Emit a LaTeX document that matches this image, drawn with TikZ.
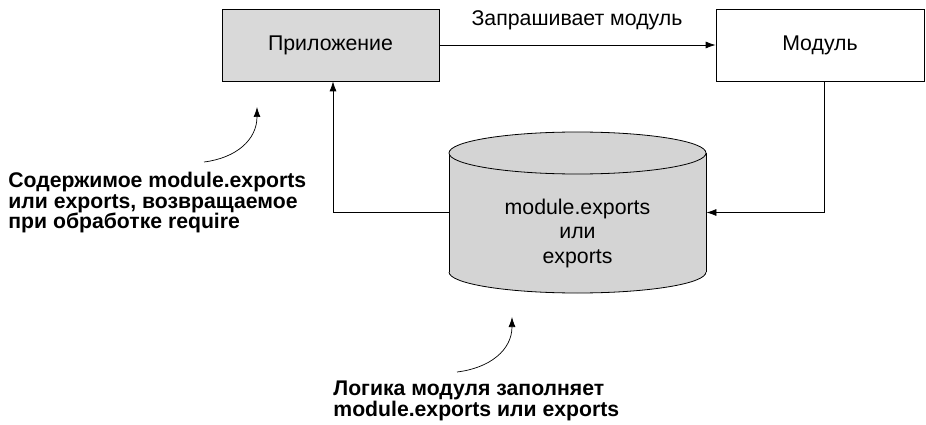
\documentclass[tikz,border=0pt]{standalone}
\usepackage{fontspec}
\setmainfont{Liberation Sans}
\usetikzlibrary{arrows.meta}
\definecolor{boxgray}{HTML}{D9D9D9}
\definecolor{cylgray}{HTML}{D4D4D4}
\begin{document}
\begin{tikzpicture}[x=1pt,y=-1pt,line width=0.8pt,
  >={Latex[length=10pt,width=7pt]},
  box/.style={draw,inner sep=0pt,minimum height=72pt,font=\fontsize{21.3}{24}\selectfont},
  note/.style={inner sep=0pt,align=left,font=\bfseries\fontsize{21.2}{20.5}\selectfont},
  plain/.style={inner sep=0pt,font=\fontsize{21.3}{24}\selectfont}]
\useasboundingbox (0,0) rectangle (926,425);

\node[box,fill=boxgray,minimum width=217pt] (app) at (330.5,45) {Приложение};
\node[box,minimum width=208pt] (mod) at (820,45) {Модуль};

% cylinder
\fill[cylgray] (449,153) rectangle (706,272);
\fill[cylgray] (577.5,272) ellipse [x radius=128.5pt, y radius=21pt];
\begin{scope}
  \clip (440,272) rectangle (720,300);
  \draw (577.5,272) ellipse [x radius=128.5pt, y radius=21pt];
\end{scope}
\draw (449,153) -- (449,272);
\draw (706,153) -- (706,272);
\draw[fill=cylgray] (577.5,153) ellipse [x radius=128.5pt, y radius=21pt];
\node[inner sep=0pt,minimum width=257pt,minimum height=119pt] (cyl) at (577.5,212.5) {};
\node[plain,align=center,font=\fontsize{21.3}{24.5}\selectfont] (cyltxt) at (577.5,233) {module.exports\\или\\exports};

% connectors
\draw[->] (app.east) -- (mod.west);
\node[plain] (req) at (577,20) {Запрашивает модуль};
\draw[->] ([xshift=4pt]mod.south) |- (cyl.east);
\draw[->] (cyl.west) -| ([xshift=2.5pt]app.south);

% notes
\node[note,anchor=west] (n1) at (8,203) {Содержимое module.exports\\или exports, возвращаемое\\при обработке require};
\node[note,anchor=west] (n2) at (333,401) {Логика модуля заполняет\\module.exports или exports};

\coordinate (a1s) at (204,162);
\coordinate (a1e) at (257,107);
\draw[->,line width=0.7pt] (a1s) .. controls (236,158) and (257,140) .. (a1e);
\coordinate (a2s) at (457,372);
\coordinate (a2e) at (512,317);
\draw[->,line width=0.7pt] (a2s) .. controls (490,368) and (512,350) .. (a2e);
\end{tikzpicture}
\end{document}
